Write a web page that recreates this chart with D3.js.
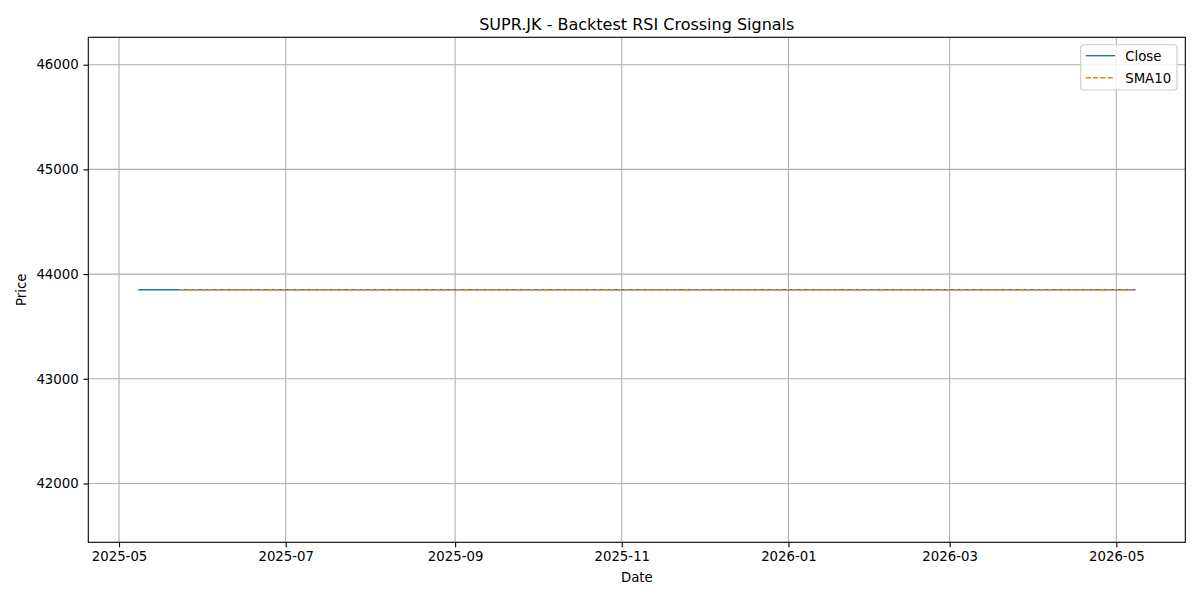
<!DOCTYPE html>
<html>
<head>
<meta charset="utf-8">
<script src="https://cdn.jsdelivr.net/npm/d3@7"></script>
<style>
  body { margin: 0; background: #fff; }
  svg { font-family: "DejaVu Sans", sans-serif; }
</style>
</head>
<body>
<div id="chart"></div>
<script>
// data
const firstDate = '2025-05-08';
const lastDate = '2026-05-08';
const smaStartDate = '2025-05-23';
const closePrice = 43850;
const seriesNames = ['Close', 'SMA10'];
const yTicks = [42000, 43000, 44000, 45000, 46000];
const xTickLabels = ['2025-05', '2025-07', '2025-09', '2025-11', '2026-01', '2026-03', '2026-05'];

const parse = d3.timeParse('%Y-%m-%d');
const parseMonth = d3.timeParse('%Y-%m');

// trading days (weekdays) between first and last date
const days = d3.timeDay.range(parse(firstDate), d3.timeDay.offset(parse(lastDate), 1))
  .filter(d => d.getDay() !== 0 && d.getDay() !== 6);
const closeData = days.map(d => ({ date: d, value: closePrice }));
const smaData = closeData.filter(d => d.date >= parse(smaStartDate));

const width = 1200, height = 600;
const margin = { top: 37.3, right: 14.7, bottom: 57.7, left: 88.3 };
const iw = width - margin.left - margin.right;
const ih = height - margin.top - margin.bottom;

const svg = d3.select('#chart').append('svg')
  .attr('width', width)
  .attr('height', height);

// matplotlib-style padding: 5% each side
const x0 = parse(firstDate), x1 = parse(lastDate);
const span = x1 - x0;
const x = d3.scaleTime()
  .domain([new Date(+x0 - span * 0.05), new Date(+x1 + span * 0.05)])
  .range([0, iw]);

const half = closePrice * 0.05 * 1.1;
const y = d3.scaleLinear()
  .domain([closePrice - half, closePrice + half])
  .range([ih, 0]);

const g = svg.append('g')
  .attr('transform', `translate(${margin.left},${margin.top})`);

const xTicks = xTickLabels.map(parseMonth);

// grid
g.append('g').selectAll('line')
  .data(xTicks).enter().append('line')
  .attr('x1', d => x(d)).attr('x2', d => x(d))
  .attr('y1', 0).attr('y2', ih)
  .attr('stroke', '#b0b0b0').attr('stroke-width', 1.1);
g.append('g').selectAll('line')
  .data(yTicks).enter().append('line')
  .attr('x1', 0).attr('x2', iw)
  .attr('y1', d => y(d)).attr('y2', d => y(d))
  .attr('stroke', '#b0b0b0').attr('stroke-width', 1.1);

// lines
const line = d3.line()
  .x(d => x(d.date))
  .y(d => y(d.value));

g.append('path')
  .datum(closeData)
  .attr('fill', 'none')
  .attr('stroke', '#1f77b4')
  .attr('stroke-width', 1.39)
  .attr('d', line);

g.append('path')
  .datum(smaData)
  .attr('fill', 'none')
  .attr('stroke', '#ff7f0e')
  .attr('stroke-width', 1.39)
  .attr('stroke-dasharray', '5.1,2.2')
  .attr('d', line);

// axes
const xAxis = g.append('g')
  .attr('transform', `translate(0,${ih})`)
  .call(d3.axisBottom(x).tickValues(xTicks).tickFormat(d3.timeFormat('%Y-%m'))
    .tickSize(4.9).tickPadding(4.7));
const yAxis = g.append('g')
  .call(d3.axisLeft(y).tickValues(yTicks).tickFormat(d3.format('d'))
    .tickSize(4.9).tickPadding(4.7));

[xAxis, yAxis].forEach(a => {
  a.select('.domain').remove();
  a.selectAll('.tick line').attr('stroke', '#000').attr('stroke-width', 1.1);
  a.selectAll('.tick text')
    .attr('fill', '#000')
    .style('font-size', '13.3px')
    .style('font-family', '"DejaVu Sans", sans-serif');
});

// frame
g.append('rect')
  .attr('width', iw).attr('height', ih)
  .attr('fill', 'none')
  .attr('stroke', '#000')
  .attr('stroke-width', 1.1);

// title and labels
svg.append('text')
  .attr('x', margin.left + iw / 2).attr('y', 30)
  .attr('text-anchor', 'middle')
  .style('font-size', '16px')
  .text('SUPR.JK - Backtest RSI Crossing Signals');

svg.append('text')
  .attr('x', margin.left + iw / 2).attr('y', 582)
  .attr('text-anchor', 'middle')
  .style('font-size', '13.3px')
  .text('Date');

svg.append('text')
  .attr('transform', `translate(25.5,${margin.top + ih / 2}) rotate(-90)`)
  .attr('text-anchor', 'middle')
  .style('font-size', '13.3px')
  .text('Price');

// legend
const legend = svg.append('g').attr('transform', 'translate(1080.7,44.7)');
legend.append('rect')
  .attr('width', 96.3).attr('height', 45.3)
  .attr('rx', 3).attr('ry', 3)
  .attr('fill', '#fff').attr('fill-opacity', 0.8)
  .attr('stroke', '#cccccc').attr('stroke-width', 1.1);

const styles = [
  { color: '#1f77b4', dash: null },
  { color: '#ff7f0e', dash: '5.1,2.2' }
];
const items = legend.selectAll('g.item')
  .data(seriesNames).enter().append('g')
  .attr('transform', (d, i) => `translate(0,${11 + i * 22})`);
items.append('line')
  .attr('x1', 5).attr('x2', 34.5)
  .attr('stroke', (d, i) => styles[i].color)
  .attr('stroke-width', 1.39)
  .attr('stroke-dasharray', (d, i) => styles[i].dash);
items.append('text')
  .attr('x', 44.5).attr('y', 4.8)
  .style('font-size', '13.3px')
  .text(d => d);
</script>
</body>
</html>
